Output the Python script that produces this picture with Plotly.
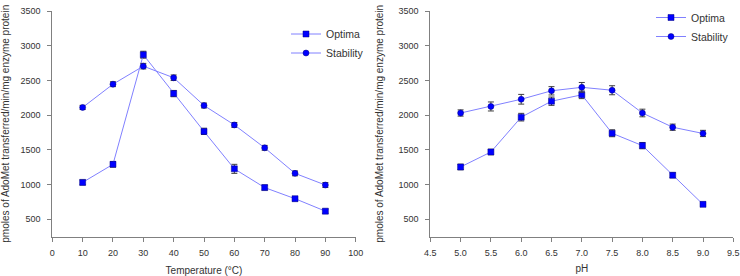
import plotly.graph_objects as go

temp = [10, 20, 30, 40, 50, 60, 70, 80, 90]
temp_optima = [1030, 1290, 2870, 2310, 1765, 1225, 955, 795, 615]
temp_optima_err = [35, 40, 50, 45, 45, 65, 35, 30, 30]
temp_stability = [2110, 2445, 2705, 2538, 2138, 1858, 1528, 1160, 992]
temp_stability_err = [30, 35, 40, 40, 35, 35, 35, 35, 35]

ph = [5.0, 5.5, 6.0, 6.5, 7.0, 7.5, 8.0, 8.5, 9.0]
ph_optima = [1252, 1468, 1970, 2200, 2292, 1738, 1560, 1133, 713]
ph_optima_err = [40, 40, 55, 60, 55, 50, 45, 35, 30]
ph_stability = [2030, 2124, 2228, 2350, 2400, 2358, 2030, 1825, 1735]
ph_stability_err = [45, 65, 70, 60, 70, 65, 55, 45, 45]

y_ticks = [500, 1000, 1500, 2000, 2500, 3000, 3500]

W, H = 740, 276
FONT = "Liberation Sans, Arial, sans-serif"
LINE = "#8080ff"
MARK = "#0000ff"
ERR = "#404040"
AX = "#808080"

fig = go.Figure()

def add(x, y, e, name, symbol, xa, ya, legend):
    fig.add_trace(go.Scatter(
        x=x, y=y, name=name, mode="lines+markers",
        line=dict(color=LINE, width=1),
        marker=dict(symbol=symbol, size=6, color=MARK,
                    line=dict(color="#000080", width=0.5)),
        error_y=dict(type="data", array=e, visible=True, color=ERR,
                     thickness=1, width=3),
        xaxis=xa, yaxis=ya, legend=legend,
    ))

add(temp, temp_optima, temp_optima_err, "Optima", "square", "x", "y", "legend")
add(temp, temp_stability, temp_stability_err, "Stability", "circle", "x", "y", "legend")
add(ph, ph_optima, ph_optima_err, "Optima", "square", "x2", "y2", "legend2")
add(ph, ph_stability, ph_stability_err, "Stability", "circle", "x2", "y2", "legend2")

ydom = [(H - 236.5) / H, (H - 11) / H]
axis_common = dict(showline=True, linecolor=AX, linewidth=1, ticks="outside",
                   ticklen=4, tickcolor=AX, showgrid=False, zeroline=False,
                   automargin=False,
                   tickfont=dict(size=9, color="#333333", family=FONT))
ytitle = "pmoles of AdoMet transferred/min/mg enzyme protein"

fig.update_layout(
    width=W, height=H, margin=dict(l=0, r=0, t=0, b=0, autoexpand=False),
    paper_bgcolor="white", plot_bgcolor="white",
    font=dict(family=FONT, color="#333333"),
    xaxis=dict(domain=[52.3 / W, 355.7 / W], range=[0, 100], dtick=10, tick0=0,
               anchor="y", ticklabelstandoff=4,
               title=dict(text="Temperature (°C)", font=dict(size=10), standoff=12),
               **axis_common),
    yaxis=dict(domain=ydom, range=[250, 3500], tickvals=y_ticks, anchor="x",
               ticklabelstandoff=5,
               title=dict(text=ytitle, font=dict(size=10), standoff=9), **axis_common),
    xaxis2=dict(domain=[430.3 / W, 733.3 / W], range=[4.5, 9.5], dtick=0.5, tick0=4.5,
                tickformat=".1f", anchor="y2", ticklabelstandoff=4,
                title=dict(text="pH", font=dict(size=10), standoff=7), **axis_common),
    yaxis2=dict(domain=ydom, range=[250, 3500], tickvals=y_ticks, anchor="x2",
                ticklabelstandoff=5,
                title=dict(text=ytitle, font=dict(size=10), standoff=12), **axis_common),
    legend=dict(x=286 / W, y=1 - 19.5 / H, xanchor="left", yanchor="top",
                bgcolor="rgba(0,0,0,0)", font=dict(size=10.5, color="#333333"),
                tracegroupgap=0, itemwidth=30),
    legend2=dict(x=651 / W, y=1 - 3 / H, xanchor="left", yanchor="top",
                 bgcolor="rgba(0,0,0,0)", font=dict(size=10.5, color="#333333"),
                 tracegroupgap=0, itemwidth=30),
)

fig.write_html("out.html", config={"displayModeBar": False},
               post_script="document.body.style.margin='0';document.body.style.padding='0';")
